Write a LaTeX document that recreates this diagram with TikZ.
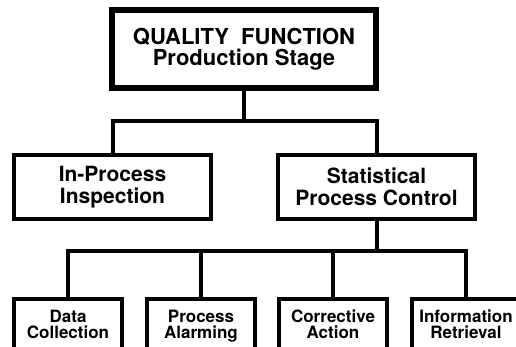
\documentclass[tikz,border=0pt]{standalone}
\usepackage{fontspec}
\setmainfont{TeX Gyre Heros}
\usepackage{tikz}

\begin{document}
\begin{tikzpicture}[x=1pt,y=-1pt,line join=miter]
		\tikzstyle{topbox}=[rectangle, draw=black, line width=6pt, inner sep=0pt, minimum width=264pt, minimum height=78pt, align=center, font=\fontsize{22}{21}\selectfont\bfseries]
		\tikzstyle{midbox}=[rectangle, draw=black, line width=4pt, inner sep=0pt, minimum width=197pt, minimum height=64pt, align=center, font=\fontsize{21}{22}\selectfont\bfseries]
		\tikzstyle{lowbox}=[rectangle, draw=black, line width=4pt, inner sep=0pt, minimum width=108pt, minimum height=64pt, text depth=14pt, align=center, font=\fontsize{17}{16}\selectfont\bfseries]
		\tikzstyle{link}=[draw=black, line width=4pt]

		\useasboundingbox (0,0) rectangle (516,347);
		\clip (0,0) rectangle (516,347);

		\node [topbox] (qf) at (244,49) {QUALITY\ \ FUNCTION\\Production Stage};
		\node [midbox] (ip) at (112.5,187) {In-Process\\Inspection};
		\node [midbox] (spc) at (376.5,187) {Statistical\\Process Control};
		\node [lowbox] (dc) at (68,331) {Data\\Collection};
		\node [lowbox] (pa) at (201,331) {Process\\Alarming};
		\node [lowbox] (ca) at (333,331) {Corrective\\Action};
		\node [lowbox] (ir) at (466,331) {Information\\Retrieval};

		\coordinate (j1) at (244,121);
		\coordinate (j2) at (376.5,251);
		\draw [link] (qf) -- (j1);
		\draw [link] (ip) |- (j1) -| (spc);
		\draw [link] (spc) -- (j2);
		\draw [link] (dc) |- (j2) -| (ir);
		\draw [link] (pa) |- (j2);
		\draw [link] (ca) |- (j2);
	\end{tikzpicture}
\end{document}
